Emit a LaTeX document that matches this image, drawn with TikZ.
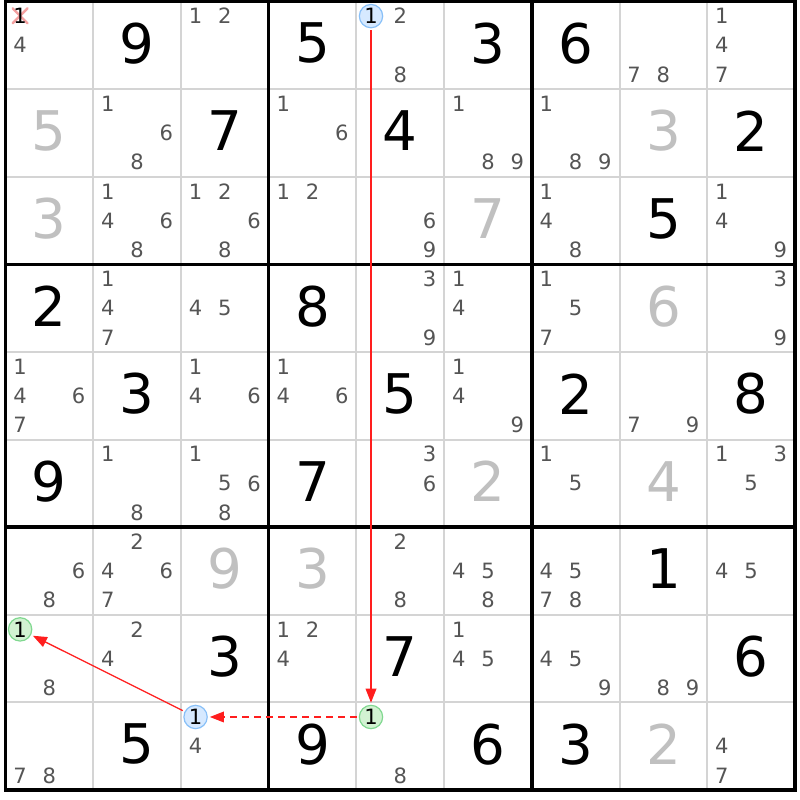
\documentclass[tikz,border=0pt]{standalone}
\usepackage{fontspec}
\setmainfont{DejaVu Sans}
\usetikzlibrary{arrows.meta}
\definecolor{candgray}{HTML}{555555}
\definecolor{solvedgray}{HTML}{C0C0C0}
\definecolor{thingrid}{HTML}{D4D4D4}
\definecolor{hlbluefill}{HTML}{D6E9FF}
\definecolor{hlbluedraw}{HTML}{88C0F8}
\definecolor{hlgreenfill}{HTML}{D2F2D2}
\definecolor{hlgreendraw}{HTML}{80D890}
\definecolor{xpink}{HTML}{F4A0A0}
\definecolor{linkred}{HTML}{FF1E1E}
\newcommand\SetPos[3]{%
  \pgfmathsetmacro\cpx{5.5+#2*87.72+(mod(#3-1,3)+0.5)*29.24}%
  \pgfmathsetmacro\cpy{1.5+#1*87.61+(int((#3-1)/3)+0.5)*29.2}%
}
\newcommand\Cands[3]{\foreach \dd in {#3}{\SetPos{#1}{#2}{\dd}\node[cand] (k#1-#2-\dd) at (\cpx,\cpy) {\dd};}}
\newcommand\GivenD[3]{\node[given] (g#1-#2) at ({5.5+(#2+0.5)*87.72},{1.5+(#1+0.5)*87.61-2}) {#3};}
\newcommand\SolvedD[3]{\node[solved] (g#1-#2) at ({5.5+(#2+0.5)*87.72},{1.5+(#1+0.5)*87.61-2}) {#3};}
\begin{document}
\begin{tikzpicture}[x=0.75pt,y=-0.75pt,
  cand/.style={inner sep=0pt,text=candgray,font=\fontsize{15.8}{15.8}\selectfont},
  candblack/.style={inner sep=0pt,text=black,font=\fontsize{15.8}{15.8}\selectfont},
  given/.style={inner sep=0pt,text=black,font=\fontsize{41}{41}\selectfont},
  solved/.style={inner sep=0pt,text=solvedgray,font=\fontsize{41}{41}\selectfont},
  hlblue/.style={circle,inner sep=0pt,minimum size=17.5pt,fill=hlbluefill,draw=hlbluedraw,line width=0.9pt,text=black,font=\fontsize{15.8}{15.8}\selectfont},
  hlgreen/.style={circle,inner sep=0pt,minimum size=17.5pt,fill=hlgreenfill,draw=hlgreendraw,line width=0.9pt,text=black,font=\fontsize{15.8}{15.8}\selectfont},
  thinline/.style={draw=thingrid,line width=1.5pt},
  thickline/.style={draw=black,line width=2.6pt},
  xmark/.style={draw=xpink,line width=1.8pt,line cap=round},
  link/.style={draw=linkred,line width=0.95pt,-{Triangle[length=10.5pt,width=8pt]},shorten >=1.5pt,shorten <=1.5pt},
  dashlink/.style={link,dash pattern=on 5.25pt off 3.75pt}
]
\path[use as bounding box,fill=white] (0,0) rectangle (800,800);
% grid
\foreach \i in {1,2,4,5,7,8}{
  \draw[thinline] ({5.5+\i*87.72},1.5) -- ({5.5+\i*87.72},790);
  \draw[thinline] (5.5,{1.5+\i*87.61}) -- (795,{1.5+\i*87.61});
}
\foreach \i in {3,6}{
  \draw[thickline] ({5.5+\i*87.72},1.5) -- ({5.5+\i*87.72},790);
  \draw[thickline] (5.5,{1.5+\i*87.61}) -- (795,{1.5+\i*87.61});
}
\draw[thickline] (5.5,1.5) rectangle (795,790);
% row 0
\coordinate (xc) at (20.1,15.8);
\draw[xmark] ([shift={(-7.5,-7.5)}]xc) -- ([shift={(7.5,7.5)}]xc);
\draw[xmark] ([shift={(-7.5,7.5)}]xc) -- ([shift={(7.5,-7.5)}]xc);
\SetPos{0}{0}{1}\node[candblack] (k0-0-1) at (\cpx,\cpy) {1};
\Cands{0}{0}{4}
\GivenD{0}{1}{9}
\Cands{0}{2}{1,2}
\GivenD{0}{3}{5}
\SetPos{0}{4}{1}\node[hlblue] (k0-4-1) at (\cpx,\cpy) {1};
\Cands{0}{4}{2,8}
\GivenD{0}{5}{3}
\GivenD{0}{6}{6}
\Cands{0}{7}{7,8}
\Cands{0}{8}{1,4,7}
% row 1
\SolvedD{1}{0}{5}
\Cands{1}{1}{1,6,8}
\GivenD{1}{2}{7}
\Cands{1}{3}{1,6}
\GivenD{1}{4}{4}
\Cands{1}{5}{1,8,9}
\Cands{1}{6}{1,8,9}
\SolvedD{1}{7}{3}
\GivenD{1}{8}{2}
% row 2
\SolvedD{2}{0}{3}
\Cands{2}{1}{1,4,6,8}
\Cands{2}{2}{1,2,6,8}
\Cands{2}{3}{1,2}
\Cands{2}{4}{6,9}
\SolvedD{2}{5}{7}
\Cands{2}{6}{1,4,8}
\GivenD{2}{7}{5}
\Cands{2}{8}{1,4,9}
% row 3
\GivenD{3}{0}{2}
\Cands{3}{1}{1,4,7}
\Cands{3}{2}{4,5}
\GivenD{3}{3}{8}
\Cands{3}{4}{3,9}
\Cands{3}{5}{1,4}
\Cands{3}{6}{1,5,7}
\SolvedD{3}{7}{6}
\Cands{3}{8}{3,9}
% row 4
\Cands{4}{0}{1,4,6,7}
\GivenD{4}{1}{3}
\Cands{4}{2}{1,4,6}
\Cands{4}{3}{1,4,6}
\GivenD{4}{4}{5}
\Cands{4}{5}{1,4,9}
\GivenD{4}{6}{2}
\Cands{4}{7}{7,9}
\GivenD{4}{8}{8}
% row 5
\GivenD{5}{0}{9}
\Cands{5}{1}{1,8}
\Cands{5}{2}{1,5,6,8}
\GivenD{5}{3}{7}
\Cands{5}{4}{3,6}
\SolvedD{5}{5}{2}
\Cands{5}{6}{1,5}
\SolvedD{5}{7}{4}
\Cands{5}{8}{1,3,5}
% row 6
\Cands{6}{0}{6,8}
\Cands{6}{1}{2,4,6,7}
\SolvedD{6}{2}{9}
\SolvedD{6}{3}{3}
\Cands{6}{4}{2,8}
\Cands{6}{5}{4,5,8}
\Cands{6}{6}{4,5,7,8}
\GivenD{6}{7}{1}
\Cands{6}{8}{4,5}
% row 7
\SetPos{7}{0}{1}\node[hlgreen] (k7-0-1) at (\cpx,\cpy) {1};
\Cands{7}{0}{8}
\Cands{7}{1}{2,4}
\GivenD{7}{2}{3}
\Cands{7}{3}{1,2,4}
\GivenD{7}{4}{7}
\Cands{7}{5}{1,4,5}
\Cands{7}{6}{4,5,9}
\Cands{7}{7}{8,9}
\GivenD{7}{8}{6}
% row 8
\Cands{8}{0}{7,8}
\GivenD{8}{1}{5}
\SetPos{8}{2}{1}\node[hlblue] (k8-2-1) at (\cpx,\cpy) {1};
\Cands{8}{2}{4}
\GivenD{8}{3}{9}
\SetPos{8}{4}{1}\node[hlgreen] (k8-4-1) at (\cpx,\cpy) {1};
\Cands{8}{4}{8}
\GivenD{8}{5}{6}
\GivenD{8}{6}{3}
\SolvedD{8}{7}{2}
\Cands{8}{8}{4,7}
% links
\draw[link] (k0-4-1) -- (k8-4-1);
\draw[dashlink] (k8-4-1) -- (k8-2-1);
\draw[link] (k8-2-1) -- (k7-0-1);
\end{tikzpicture}
\end{document}
